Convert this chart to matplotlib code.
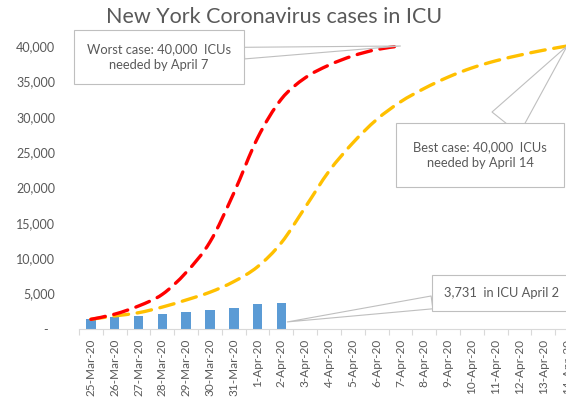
#!/usr/bin/env python3

"""
New York Coronavirus cases in ICU -- bars for actual ICU counts,
dashed (smoothed, Excel style) lines for worst / best case projections.
"""

# %% load libraries
import numpy as np
import matplotlib
matplotlib.use('Agg')
import matplotlib.pyplot as plt
from matplotlib.path import Path
from matplotlib.patches import PathPatch
from matplotlib.ticker import FuncFormatter


# %% data
dates = ['25-Mar-20', '26-Mar-20', '27-Mar-20', '28-Mar-20', '29-Mar-20',
         '30-Mar-20', '31-Mar-20', '1-Apr-20', '2-Apr-20', '3-Apr-20',
         '4-Apr-20', '5-Apr-20', '6-Apr-20', '7-Apr-20', '8-Apr-20',
         '9-Apr-20', '10-Apr-20', '11-Apr-20', '12-Apr-20', '13-Apr-20',
         '14-Apr-20']
# actual ICU counts (25-Mar .. 2-Apr)
icu_actual = [1400, 1650, 1780, 2050, 2430, 2650, 2990, 3480, 3731]
# worst case projection (25-Mar .. 7-Apr)
worst_case = [1370, 2100, 3250, 4900, 8000, 12300, 19200, 27000, 32500,
              35500, 37300, 38600, 39500, 40000]
# best case projection (25-Mar .. 14-Apr)
best_case = [1370, 1850, 2300, 3100, 4100, 5200, 6700, 8800, 12200, 17200,
             22300, 26300, 29600, 32100, 34000, 35600, 36900, 37900, 38700,
             39400, 40000]
y_ticks = [0, 5000, 10000, 15000, 20000, 25000, 30000, 35000, 40000]

title = 'New York Coronavirus cases in ICU'
note_worst = 'Worst case: 40,000  ICUs\nneeded by April 7'
note_best = 'Best case: 40,000  ICUs\nneeded by April 14'
note_actual = '3,731  in ICU April 2'


# %% style
plt.rcParams['font.family'] = ['Lato', 'DejaVu Sans']
grey_txt = '#595959'
grey_line = '#D9D9D9'
grey_box = '#BFBFBF'


# %% helpers
def smooth_path(xs, ys):
    """Bezier path through the points (Catmull-Rom, like Excel smoothing)."""
    p = np.column_stack([xs, ys]).astype(float)
    p_ext = np.vstack([p[0], p, p[-1]])
    verts = [p[0]]
    codes = [Path.MOVETO]
    for i in range(len(p) - 1):
        p0, p1, p2, p3 = p_ext[i], p_ext[i + 1], p_ext[i + 2], p_ext[i + 3]
        verts += [p1 + (p2 - p0) / 6, p2 - (p3 - p1) / 6, p2]
        codes += [Path.CURVE4] * 3
    return Path(verts, codes)


def dashed_curve(ax, xs, ys, color):
    patch = PathPatch(smooth_path(xs, ys), fill=False, ec=color, lw=2.4,
                      ls=(0, (4.4, 2.6)), capstyle='round', clip_on=False,
                      zorder=3)
    ax.add_patch(patch)


# %% figure
W, H = 566, 400
fig = plt.figure(figsize=(W / 100, H / 100), dpi=100)
# --+ axes run past the right edge, like the cropped original
ax = fig.add_axes([79 / W, 71 / H, 500 / W, 283 / H])

x = np.arange(len(dates))

# --+ bars
ax.bar(x[:len(icu_actual)], icu_actual, width=0.4, color='#5B9BD5',
       zorder=2)
# --+ projections
dashed_curve(ax, x[:len(best_case)], best_case, '#FFC000')
dashed_curve(ax, x[:len(worst_case)], worst_case, '#FF0000')

# --+ axis properties
ax.set_xlim(-0.5, len(dates) - 0.5)
ax.set_ylim(0, 40000)
ax.set_yticks(y_ticks)
ax.yaxis.set_major_formatter(
    FuncFormatter(lambda v, p: '-  ' if v == 0 else '{:,.0f}'.format(v)))
ax.set_xticks(x)
ax.set_xticklabels(dates, rotation=90, fontsize=8.5, color=grey_txt)
ax.set_xticks(np.arange(-0.5, len(dates), 1), minor=True)
ax.tick_params(axis='x', which='major', length=0, pad=7)
ax.tick_params(axis='x', which='minor', length=4.5, color=grey_line,
               width=0.8)
ax.tick_params(axis='y', length=0, pad=17, labelsize=9,
               labelcolor=grey_txt)
for s in ['top', 'right', 'left']:
    ax.spines[s].set_visible(False)
ax.spines['bottom'].set_color(grey_line)
ax.spines['bottom'].set_linewidth(0.8)

# --+ title
fig.text(274 / W, 1 - 17 / H, title, fontsize=15.5, color=grey_txt,
         ha='center', va='center')


# --+ callouts
def callout(text, target, pos, tail, ha='center', pad=1.0):
    ax.annotate(text, xy=target, xycoords='data',
                xytext=pos, textcoords='figure fraction',
                ha=ha, va='center', fontsize=9.3, color=grey_txt,
                linespacing=1.45,
                bbox=dict(boxstyle='square,pad=%s' % pad, fc='white',
                          ec=grey_box, lw=0.8),
                arrowprops=dict(arrowstyle='wedge,tail_width=%s,'
                                'shrink_factor=0.5' % tail,
                                fc='white', ec=grey_box, lw=0.8,
                                shrinkA=0, shrinkB=0),
                annotation_clip=False, zorder=4)


callout(note_worst, (len(worst_case) - 1, worst_case[-1]),
        (159 / W, 1 - 57 / H), 0.9)
callout(note_best, (len(best_case) - 1, best_case[-1]),
        (480 / W, 1 - 155 / H), 2.7, pad=1.35)
callout(note_actual, (len(icu_actual) - 1 + 0.25, 1000),
        (444 / W, 1 - 293 / H), 1.0, ha='left', pad=0.9)

# --+ save plot
plt.savefig('out.png', dpi=100)
